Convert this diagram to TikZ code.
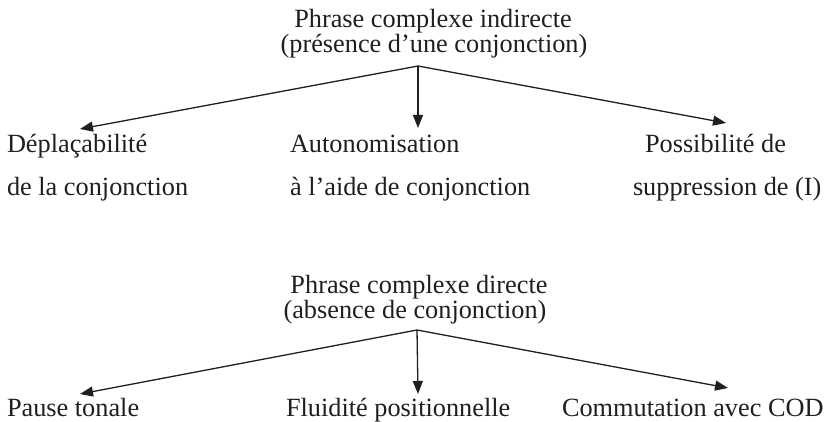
\documentclass[tikz,border=0pt]{standalone}
\usepackage{fontspec}
\setmainfont{Liberation Serif}
\usetikzlibrary{arrows.meta}
\begin{document}
\begin{tikzpicture}[x=1pt,y=-1pt,
  txt/.style={inner sep=0pt,outer sep=0pt,font=\fontsize{26.3}{30}\selectfont,text=black!88},
  arr/.style={line width=1.3pt,draw=black!88,-{Triangle[length=13pt,width=10pt]}}]
\useasboundingbox (0,0) rectangle (829,422);
% top group
\node[txt,anchor=base] (t1a) at (433,28) {Phrase complexe indirecte};
\node[txt,anchor=base] (t1b) at (434,53) {(présence d’une conjonction)};
\coordinate (ap1) at (418,66);
\coordinate (e1l) at (80,129);
\coordinate (e1m) at (418,128);
\coordinate (e1r) at (726,123);
\draw[arr] (ap1) -- (e1l);
\draw[arr] (ap1) -- (e1m);
\draw[arr] (ap1) -- (e1r);
\node[txt,anchor=base west] (a1) at (7,153) {Déplaçabilité};
\node[txt,anchor=base west] (a2) at (7,195) {de la conjonction};
\node[txt,anchor=base west] (b1) at (290,153) {Autonomisation};
\node[txt,anchor=base west] (b2) at (290,195) {à l’aide de conjonction};
\node[txt,anchor=base west] (c1) at (645,153) {Possibilité de};
\node[txt,anchor=base west] (c2) at (633,195) {suppression de (I)};
% bottom group
\node[txt,anchor=base] (t2a) at (419,293) {Phrase complexe directe};
\node[txt,anchor=base] (t2b) at (415,318) {(absence de conjonction)};
\coordinate (ap2) at (417,330);
\coordinate (e2l) at (80,394);
\coordinate (e2m) at (418,394);
\coordinate (e2r) at (728,388);
\draw[arr] (ap2) -- (e2l);
\draw[arr] (ap2) -- (e2m);
\draw[arr] (ap2) -- (e2r);
\node[txt,anchor=base west] (d1) at (7,416) {Pause tonale};
\node[txt,anchor=base west] (f1) at (286,416) {Fluidité positionnelle};
\node[txt,anchor=base west] (g1) at (562,416) {Commutation avec COD};
\end{tikzpicture}
\end{document}
